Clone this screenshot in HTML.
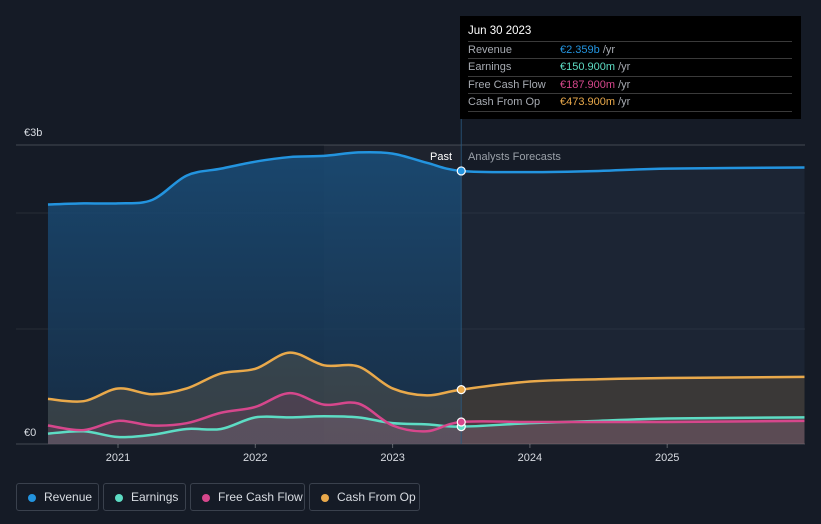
<!DOCTYPE html>
<html><head><meta charset="utf-8"><style>
body{margin:0;background:#151b26;font-family:"Liberation Sans",sans-serif;}
#wrap{position:relative;width:821px;height:524px;overflow:hidden;background:#151b26}
svg text{font-family:"Liberation Sans",sans-serif}
.leg{position:absolute;top:483px;height:28px;border:1px solid #3a414d;border-radius:3px;color:#d8dce2;font-size:12px;line-height:27px;box-sizing:border-box;padding-left:27px}
.leg i{position:absolute;left:11px;top:10px;width:8px;height:8px;border-radius:50%}
#tip{position:absolute;left:460px;top:16px;width:341px;height:103px;background:#000;color:#fff;font-size:11px}
#tip .r{position:absolute;left:8px;width:324px;border-top:1px solid #3a3a3a;height:17px;line-height:17px;color:#a7abb2}
#tip .r span{position:absolute;left:92px}
</style></head><body>
<div id="wrap">
<svg id="svg" width="821" height="524"></svg>
<div id="tip">
<div style="position:absolute;left:8px;top:9px;font-size:11.5px">Jun 30 2023</div>
<div class="r" style="top:25px">Revenue<span><b style="font-weight:normal;color:#2394df">€2.359b</b> /yr</span></div>
<div class="r" style="top:42px">Earnings<span><b style="font-weight:normal;color:#5ddcc4">€150.900m</b> /yr</span></div>
<div class="r" style="top:60px">Free Cash Flow<span><b style="font-weight:normal;color:#d6478c">€187.900m</b> /yr</span></div>
<div class="r" style="top:77px;border-bottom:1px solid #3a3a3a">Cash From Op<span><b style="font-weight:normal;color:#e9a94b">€473.900m</b> /yr</span></div>
</div>
<div class="leg" style="left:16px;width:83px"><i style="background:#2394df"></i>Revenue</div>
<div class="leg" style="left:103px;width:83px"><i style="background:#5ddcc4"></i>Earnings</div>
<div class="leg" style="left:190px;width:115px"><i style="background:#d6478c"></i>Free Cash Flow</div>
<div class="leg" style="left:309px;width:111px"><i style="background:#e9a94b"></i>Cash From Op</div>
</div>
<script>
const dates=[2020.49,2020.75,2021.0,2021.25,2021.5,2021.75,2022.0,2022.25,2022.5,2022.75,2023.0,2023.25,2023.5,2024.0,2024.5,2025.0,2026.0];
const revenue=[2.07,2.08,2.08,2.11,2.32,2.38,2.44,2.48,2.49,2.52,2.51,2.43,2.36,2.35,2.36,2.38,2.39];
const cashFromOp=[0.39,0.37,0.48,0.43,0.48,0.61,0.65,0.79,0.68,0.67,0.48,0.42,0.47,0.54,0.56,0.57,0.58];
const freeCashFlow=[0.16,0.12,0.20,0.16,0.18,0.27,0.32,0.44,0.34,0.35,0.16,0.11,0.19,0.19,0.19,0.19,0.20];
const earnings=[0.09,0.11,0.06,0.08,0.13,0.13,0.23,0.23,0.24,0.23,0.18,0.17,0.15,0.18,0.20,0.22,0.23];
const yearTicks=[2021,2022,2023,2024,2025];
const pastIndex=12;
const X=d=>118+(d-2021)*137.3;
const Y=v=>444-v*115.7;
const svg=document.getElementById('svg');
const NS='http://www.w3.org/2000/svg';
function mk(tag,attrs,name){const e=document.createElementNS(NS,tag);for(const k in attrs)e.setAttribute(k,attrs[k]);


svg.appendChild(e);return e;}
function curve(xs,ys){let d='M'+xs[0]+','+ys[0];for(let i=0;i<xs.length-1;i++){const p0=i?i-1:i,p3=i+2<xs.length?i+2:i+1;
const c1x=xs[i]+(xs[i+1]-xs[p0])/6,c1y=ys[i]+(ys[i+1]-ys[p0])/6,c2x=xs[i+1]-(xs[p3]-xs[i])/6,c2y=ys[i+1]-(ys[p3]-ys[i])/6;
d+=' C'+c1x+','+c1y+' '+c2x+','+c2y+' '+xs[i+1]+','+ys[i+1];}return d;}
const defs=mk('defs',{},'defs');
defs.innerHTML='<linearGradient id="pg" x1="0" y1="0" x2="0" y2="1"><stop offset="0" stop-color="#1a4e7a" stop-opacity="0.85"/><stop offset="1" stop-color="#17304a" stop-opacity="0.8"/></linearGradient>';
mk('rect',{x:X(2022.5),y:145,width:X(dates[pastIndex])-X(2022.5),height:299,fill:'#ffffff',opacity:0.04},'highlight-band');
[145,213,329].forEach((g,i)=>mk('line',{x1:16,x2:805,y1:g,y2:g,stroke:'#ffffff',opacity:i?0.08:0.2},'gridline'));
mk('line',{x1:16,x2:805,y1:444,y2:444,stroke:'#ffffff',opacity:0.2},'x-axis');
const xs=dates.map(X);
const base=Y(0);
function area(vals,fill,op,name){const ys=vals.map(Y);mk('path',{d:curve(xs,ys)+' L'+xs[xs.length-1]+','+base+' L'+xs[0]+','+base+'Z',fill:fill,opacity:op},name);}
const rys=revenue.map(Y);
const pxs=xs.slice(0,pastIndex+1),pys=rys.slice(0,pastIndex+1);
mk('path',{d:curve(pxs,pys)+' L'+pxs[pastIndex]+','+base+' L'+pxs[0]+','+base+'Z',fill:'url(#pg)'},'revenue-area-past');
const fxs=xs.slice(pastIndex),fys=rys.slice(pastIndex);
mk('path',{d:curve(fxs,fys)+' L'+fxs[fxs.length-1]+','+base+' L'+fxs[0]+','+base+'Z',fill:'#2a3850',opacity:0.35},'revenue-area-forecast');
area(cashFromOp,'#e9a94b',0.15,'cash-from-op-area');
area(freeCashFlow,'#d6478c',0.13,'fcf-area');
area(earnings,'#9aa3ad',0.18,'earnings-area');
mk('line',{x1:X(dates[pastIndex]),x2:X(dates[pastIndex]),y1:16,y2:444,stroke:'#2a5a80',opacity:0.8},'past-divider');
[[earnings,'#5ddcc4','earnings-line'],[freeCashFlow,'#d6478c','fcf-line'],[cashFromOp,'#e9a94b','cash-from-op-line'],[revenue,'#2394df','revenue-line']].forEach(s=>{
mk('path',{d:curve(xs,s[0].map(Y)),fill:'none',stroke:s[1],'stroke-width':2.5},s[2]);});
[[earnings,'#5ddcc4'],[freeCashFlow,'#d6478c'],[cashFromOp,'#e9a94b'],[revenue,'#2394df']].forEach(s=>{
mk('circle',{cx:X(dates[pastIndex]),cy:Y(s[0][pastIndex]),r:4,fill:s[1],stroke:'#fff','stroke-width':1.2},'marker');});
yearTicks.forEach(t=>{mk('line',{x1:X(t),x2:X(t),y1:444,y2:448,stroke:'#ffffff',opacity:0.3},'x-tick');
const tx=mk('text',{x:X(t),y:461,fill:'#d8dce2','font-size':11,'text-anchor':'middle'},'x-tick-label');tx.textContent=t;});
let t=mk('text',{x:24,y:136,fill:'#d8dce2','font-size':11},'y-label-top');t.textContent='€3b';
t=mk('text',{x:24,y:436,fill:'#d8dce2','font-size':11},'y-label-zero');t.textContent='€0';
t=mk('text',{x:452,y:160,fill:'#ffffff','font-size':11,'text-anchor':'end'},'past-label');t.textContent='Past';
t=mk('text',{x:468,y:160,fill:'#9aa0a8','font-size':11},'forecast-label');t.textContent='Analysts Forecasts';
</script>
</body></html>
